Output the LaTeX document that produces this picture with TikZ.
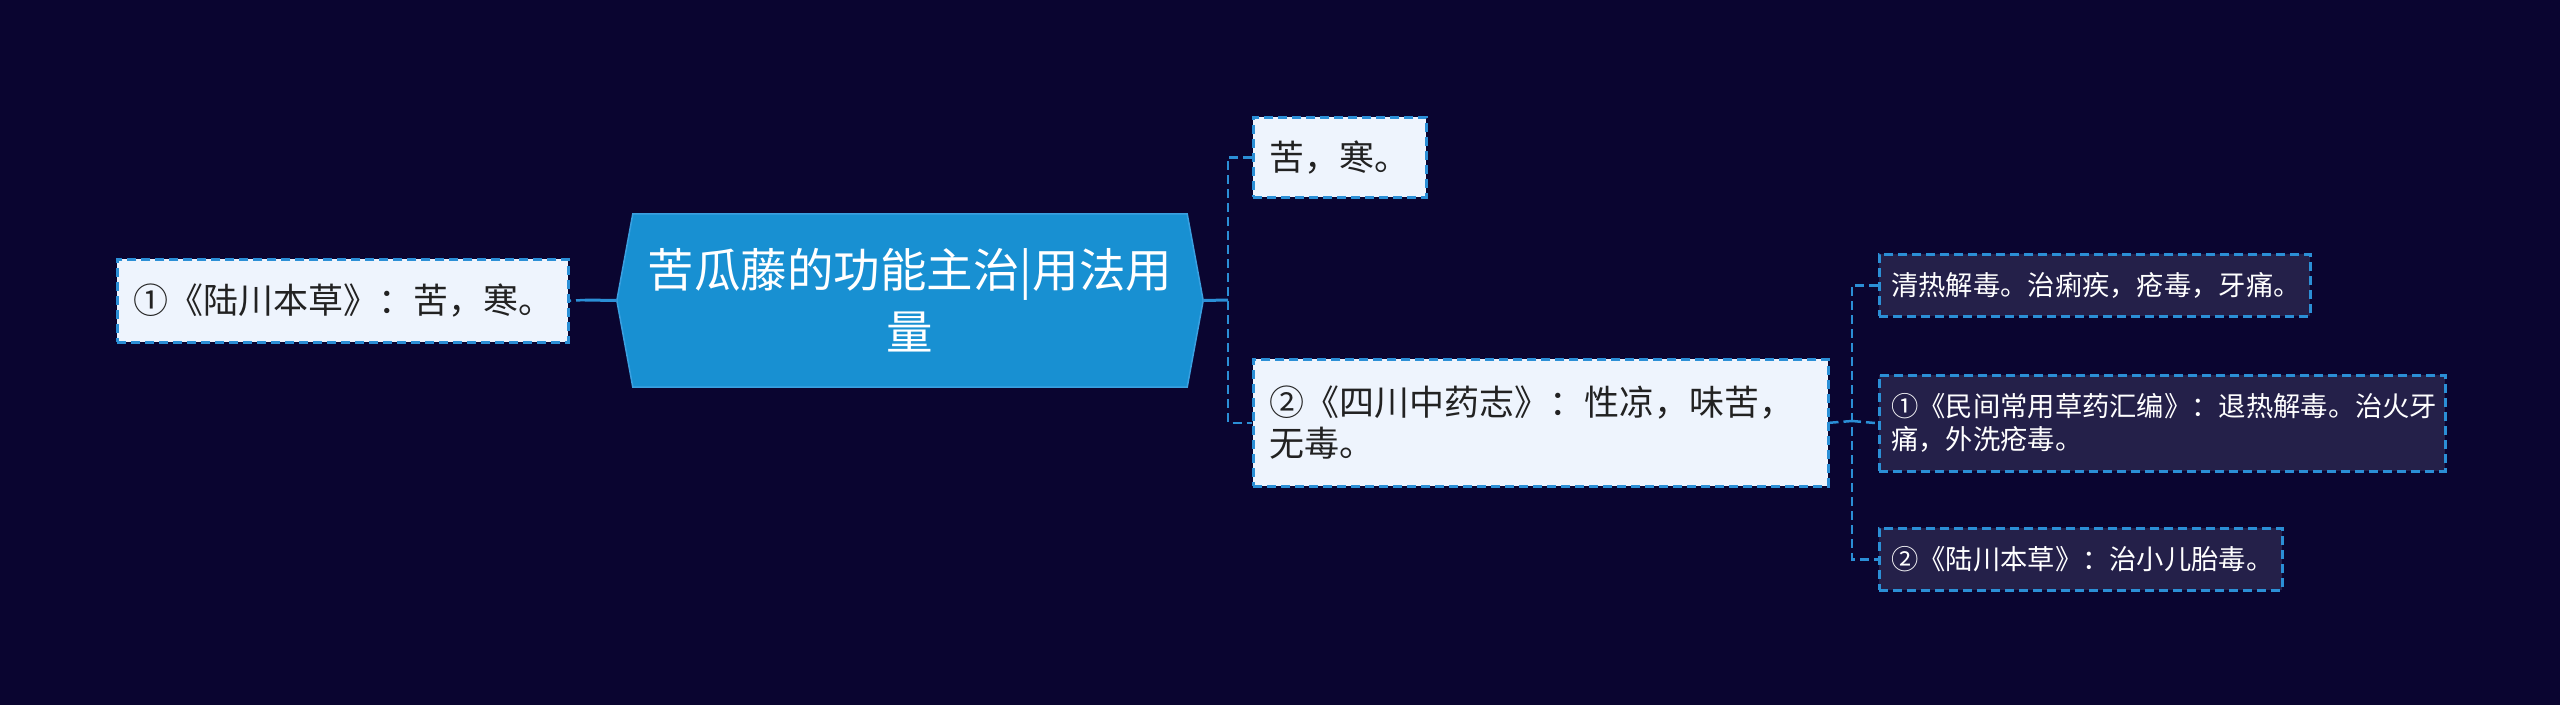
\documentclass[tikz,border=0pt]{standalone}
\usepackage{fontspec}
\setmainfont{Noto Sans CJK SC}
\usetikzlibrary{backgrounds}
\definecolor{bgc}{HTML}{0A0530}
\definecolor{cfill}{HTML}{1890D2}
\definecolor{cedge}{HTML}{3AA0E0}
\definecolor{lfill}{HTML}{EEF4FD}
\definecolor{dfill}{HTML}{242049}
\definecolor{lnc}{HTML}{2B8FD6}
\definecolor{txtdark}{HTML}{222222}
\begin{document}
\begin{tikzpicture}[x=1pt,y=-1pt,
  boxbase/.style={draw=lnc, line width=2.5pt, dash pattern=on 9pt off 5pt, align=left, inner ysep=0pt, anchor=north west},
  lightbox/.style={boxbase, fill=lfill, text=txtdark, inner xsep=16pt, font=\fontsize{35}{41}\selectfont},
  darkbox/.style={boxbase, fill=dfill, text=white, inner xsep=12pt, font=\fontsize{27.3}{33}\selectfont},
  centerbox/.style={text=white, align=center, minimum width=586pt, minimum height=173pt, inner sep=0pt, font=\fontsize{46.5}{62}\selectfont},
  link/.style={draw=lnc, line width=2.5pt, dash pattern=on 9pt off 5pt},
  stub/.style={draw=lnc, line width=3pt},
]
\useasboundingbox (0,0) rectangle (2560,705);

\node[centerbox] (c) at (910,300.5) {苦瓜藤的功能主治|用法用\\量};

\begin{scope}[on background layer]
  \fill[bgc] (0,0) rectangle (2560,705);
  \filldraw[fill=cfill, draw=cedge, line width=1.5pt]
    (c.west) -- ([xshift=16pt]c.north west) -- ([xshift=-16pt]c.north east)
    -- (c.east) -- ([xshift=-16pt]c.south east) -- ([xshift=16pt]c.south west) -- cycle;
\end{scope}

\node[lightbox, text width=419pt, minimum height=83pt] (l1) at (116,258) {①《陆川本草》：苦，寒。};
\node[lightbox, text width=141pt, minimum height=80pt] (t1) at (1252,116) {苦，寒。};
\node[lightbox, text width=543pt, minimum height=127pt] (t2) at (1252,358) {②《四川中药志》：性凉，味苦，\\无毒。};

\node[darkbox, text width=407pt, minimum height=62pt] (s1) at (1878,253) {清热解毒。治痢疾，疮毒，牙痛。};
\node[darkbox, text width=542pt, minimum height=96pt] (s2) at (1878,374) {①《民间常用草药汇编》：退热解毒。治火牙\\痛，外洗疮毒。};
\node[darkbox, text width=379pt, minimum height=62pt] (s3) at (1878,527) {②《陆川本草》：治小儿胎毒。};

\coordinate (jl) at (585,300);
\coordinate (jr) at (1228,300);
\coordinate (js) at (1852,421);

\draw[stub] (c.west) -- (jl);
\draw[link] (jl) -- (l1.east);

\draw[stub] (c.east) -- (jr);
\draw[link] (t1.west) -| (jr) |- (t2.west);

\draw[link] (t2.east) -- (js);
\draw[link] (s1.west) -| (js) |- (s3.west);
\draw[link] (js) -- (s2.west);
\end{tikzpicture}
\end{document}
